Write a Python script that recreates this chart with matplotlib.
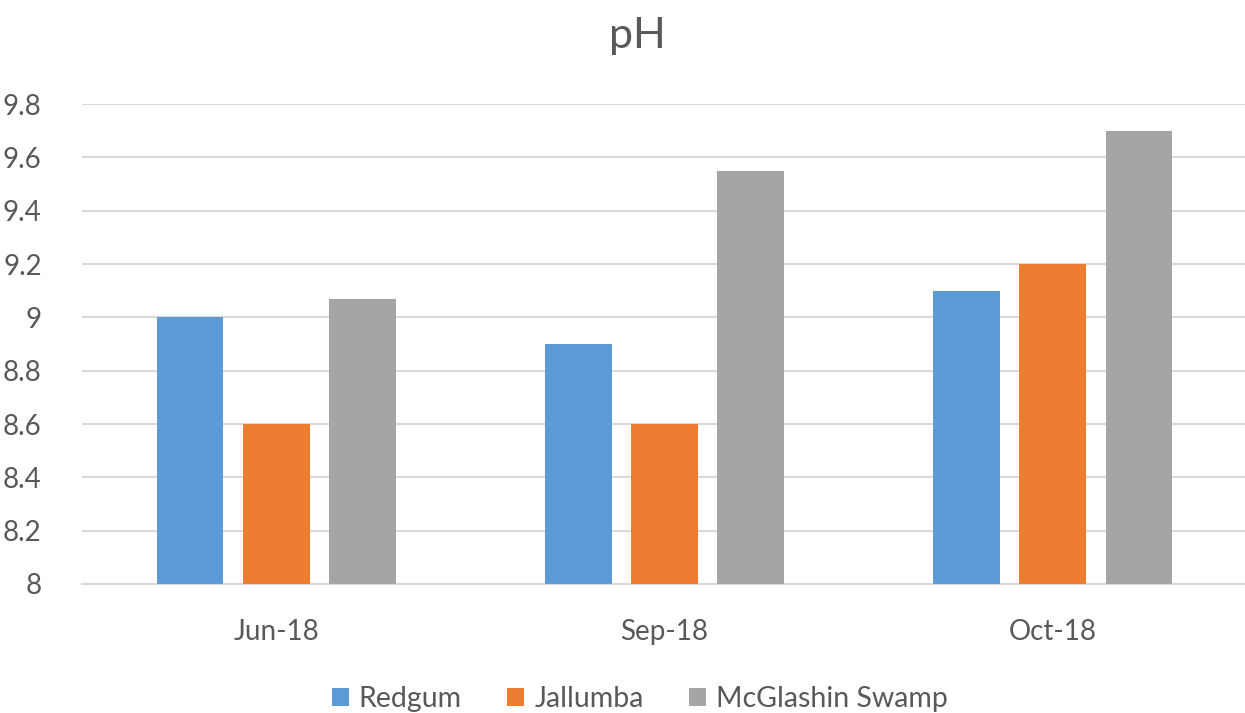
import numpy as np
import matplotlib
matplotlib.use('Agg')
import matplotlib.pyplot as plt
from matplotlib.ticker import FuncFormatter

plt.rcParams['font.family'] = ['Lato', 'DejaVu Sans']

# data
months = ['Jun-18', 'Sep-18', 'Oct-18']
series = ['Redgum', 'Jallumba', 'McGlashin Swamp']
redgum = [9.0, 8.9, 9.1]
jallumba = [8.6, 8.6, 9.2]
mcglashin = [9.07, 9.55, 9.7]
colors = ['#5B9BD5', '#ED7D31', '#A5A5A5']
textColor = '#595959'

fig = plt.figure(figsize=(12.45, 7.13), dpi=100)
ax = fig.add_axes([82/1245, 1 - 584/713, 1165/1245, 480/713])

x = np.arange(len(months))
barWidth = 0.172
offset = 0.222
for i, (vals, name) in enumerate(zip([redgum, jallumba, mcglashin], series)):
	ax.bar(x + (i - 1)*offset, np.array(vals) - 8, width=barWidth, bottom=8,
		color=colors[i], label=name, zorder=3)

ax.set_xlim(-0.5, 2.5)
ax.set_ylim(8, 9.8)
ax.set_yticks(np.arange(8, 9.81, 0.2))
ax.yaxis.set_major_formatter(FuncFormatter(lambda v, p: '{:g}'.format(round(v, 1))))
ax.set_xticks(x)
ax.set_xticklabels(months)
ax.grid(axis='y', color='#D9D9D9', linewidth=1.5, zorder=0)
for s in ['top', 'right', 'left']:
	ax.spines[s].set_visible(False)
ax.spines['bottom'].set_color('#D9D9D9')
ax.spines['bottom'].set_linewidth(1.5)
ax.tick_params(axis='both', length=0, labelsize=20, colors=textColor)
ax.tick_params(axis='y', pad=29)
ax.tick_params(axis='x', pad=25)

fig.text(0.512, 0.95, 'pH', ha='center', va='center', fontsize=31, color=textColor)

fig.legend(loc='center', bbox_to_anchor=(0.514, 0.02), ncol=3, frameon=False,
	fontsize=20.5, labelcolor=textColor, handlelength=0.6, handleheight=0.6,
	handletextpad=0.35, columnspacing=1.6)

plt.savefig('out.png', dpi=100)
